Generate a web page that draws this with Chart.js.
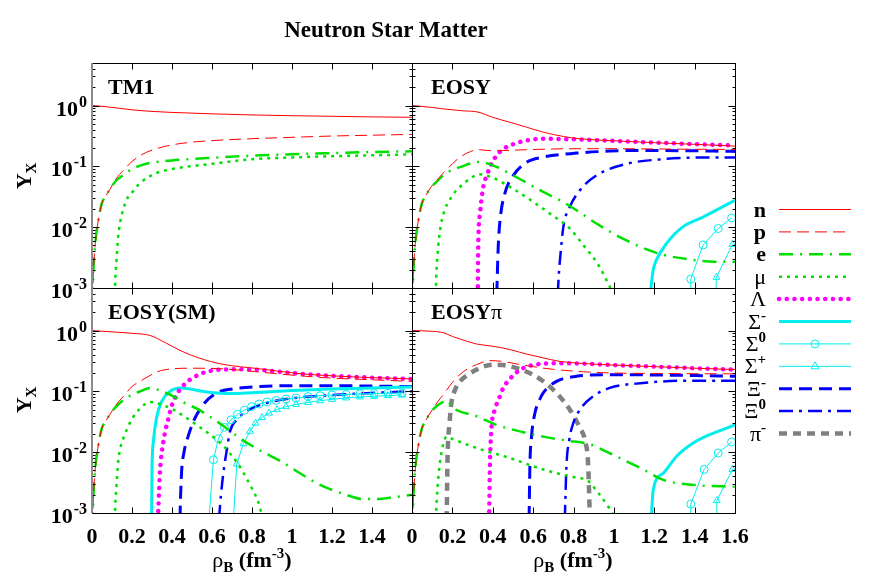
<!DOCTYPE html>
<html>
<head>
<meta charset="utf-8">
<script src="https://cdn.jsdelivr.net/npm/chart.js@4.4.0/dist/chart.umd.min.js"></script>
<style>
  body { margin: 0; background: #fff; }
  #wrap { position: relative; width: 872px; height: 578px; overflow: hidden;
          font-family: "Liberation Serif", "Times New Roman", serif; font-weight: bold; color: #000; }
  #wrap canvas, #wrap svg { position: absolute; left: 0; top: 0; }
  .t { position: absolute; white-space: nowrap; font-size: 22px; line-height: 22px; }
  .g { font-weight: normal; }
  .sup { font-size: 15px; position: relative; top: -9px; }
  .sub { font-size: 15px; position: relative; top: 5px; }
</style>
</head>
<body>
<div id="wrap">
  <canvas id="tm1" width="872" height="578"></canvas>
  <canvas id="eosy" width="872" height="578"></canvas>
  <canvas id="eosysm" width="872" height="578"></canvas>
  <canvas id="eosypi" width="872" height="578"></canvas>
  <svg id="legend" width="872" height="578"></svg>

  <div class="t" style="left:386px; top:19px; font-size:23px; transform:translateX(-50%)">Neutron Star Matter</div>

  <div class="t" style="left:108px; top:76px">TM1</div>
  <div class="t" style="left:431px; top:76px">EOSY</div>
  <div class="t" style="left:108px; top:301px">EOSY(SM)</div>
  <div class="t" style="left:431px; top:301px">EOSY<span class="g">π</span></div>

  <div class="t" style="left:25px; top:176px; transform:translate(-50%,-50%) rotate(-90deg)">Y<span class="sub">X</span></div>
  <div class="t" style="left:25px; top:400px; transform:translate(-50%,-50%) rotate(-90deg)">Y<span class="sub">X</span></div>

  <div class="t" style="left:252px; top:549px; transform:translateX(-50%)"><span class="g">ρ</span><span class="sub">B</span> (fm<span class="sup">-3</span>)</div>
  <div class="t" style="left:573px; top:549px; transform:translateX(-50%)"><span class="g">ρ</span><span class="sub">B</span> (fm<span class="sup">-3</span>)</div>
  <div id="legendText"></div>
</div>

<script>
// axis ticks
const xTicks = [0, 0.2, 0.4, 0.6, 0.8, 1, 1.2, 1.4, 1.6];
const xTickLabelsLeft = ['0', '0.2', '0.4', '0.6', '0.8', '1', '1.2', '1.4'];
const xTickLabelsRight = ['0', '0.2', '0.4', '0.6', '0.8', '1', '1.2', '1.4', '1.6'];
const yDecades = [-3, -2, -1, 0];
const yMin = 1e-3, yMax = 5;

// legend entries: [key, label html]
const legendKeys = ['n', 'p', 'e', 'mu', 'lam', 'sm', 's0', 'sp', 'xm', 'x0', 'pim'];
const legendLabels = ['n', 'p', 'e', '<span class="g">μ</span>', '<span class="g">Λ</span>',
  '<span class="g">Σ</span><span class="sup">-</span>', '<span class="g">Σ</span><span class="sup">0</span>',
  '<span class="g">Σ</span><span class="sup">+</span>', '<span class="g">Ξ</span><span class="sup">-</span>',
  '<span class="g">Ξ</span><span class="sup">0</span>', '<span class="g">π</span><span class="sup">-</span>'];

// ---- TM1 : [rho_B, Y]
const tm1_n = [[0,1.0],[0.05,0.97],[0.1,0.93],[0.15,0.89],[0.2,0.85],[0.3,0.8],[0.4,0.77],[0.5,0.75],[0.6,0.73],[0.8,0.7],[1.0,0.68],[1.2,0.665],[1.4,0.65],[1.6,0.64]];
const tm1_p = [[0.003,0.0006],[0.006,0.0015],[0.01,0.0028],[0.015,0.0048],[0.023,0.0085],[0.035,0.015],[0.048,0.024],[0.07,0.033],[0.09,0.042],[0.12,0.062],[0.157,0.086],[0.2,0.12],[0.24,0.15],[0.3,0.185],[0.4,0.225],[0.5,0.25],[0.6,0.265],[0.8,0.285],[1.0,0.3],[1.2,0.315],[1.4,0.325],[1.6,0.335]];
const tm1_e = [[0.003,0.0006],[0.006,0.0015],[0.01,0.0028],[0.015,0.0048],[0.023,0.0085],[0.035,0.015],[0.048,0.024],[0.07,0.033],[0.09,0.042],[0.12,0.058],[0.157,0.072],[0.2,0.09],[0.24,0.103],[0.3,0.115],[0.4,0.125],[0.5,0.132],[0.6,0.138],[0.8,0.15],[1.0,0.158],[1.2,0.165],[1.4,0.172],[1.6,0.177]];
const tm1_mu = [[0.114,0.0008],[0.117,0.0015],[0.123,0.003],[0.13,0.0065],[0.14,0.0116],[0.173,0.028],[0.2,0.037],[0.24,0.053],[0.32,0.077],[0.4,0.09],[0.49,0.1],[0.6,0.11],[0.79,0.13],[1.0,0.14],[1.2,0.147],[1.4,0.152],[1.6,0.157]];

// ---- EOSY
const eosy_n = [[0,1.0],[0.1,0.93],[0.155,0.88],[0.25,0.82],[0.327,0.78],[0.4,0.64],[0.485,0.53],[0.568,0.44],[0.65,0.365],[0.75,0.31],[0.83,0.284],[0.98,0.265],[1.2,0.245],[1.4,0.23],[1.6,0.215]];
const eosy_p = [[0.003,0.0006],[0.006,0.0015],[0.01,0.0028],[0.015,0.0048],[0.023,0.0085],[0.035,0.015],[0.048,0.024],[0.07,0.034],[0.097,0.047],[0.125,0.06],[0.155,0.078],[0.2,0.11],[0.238,0.142],[0.29,0.175],[0.327,0.188],[0.4,0.18],[0.568,0.188],[0.815,0.195],[1.0,0.195],[1.2,0.193],[1.4,0.191],[1.6,0.19]];
const eosy_e = [[0.003,0.0006],[0.006,0.0015],[0.01,0.0028],[0.015,0.0048],[0.023,0.0085],[0.035,0.015],[0.048,0.024],[0.07,0.034],[0.097,0.046],[0.125,0.057],[0.155,0.071],[0.2,0.088],[0.238,0.097],[0.3,0.114],[0.33,0.118],[0.4,0.104],[0.485,0.076],[0.55,0.058],[0.65,0.038],[0.73,0.028],[0.815,0.019],[0.91,0.0117],[1.06,0.0061],[1.22,0.0037],[1.39,0.0029],[1.5,0.0027],[1.6,0.0027]];
const eosy_mu = [[0.118,0.0008],[0.12,0.0015],[0.125,0.003],[0.135,0.007],[0.15,0.014],[0.2,0.033],[0.25,0.05],[0.3,0.067],[0.33,0.074],[0.4,0.065],[0.485,0.046],[0.58,0.029],[0.683,0.0167],[0.782,0.0095],[0.85,0.005],[0.92,0.0025],[0.99,0.0009]];
const eosy_lam = [[0.326,0.0008],[0.328,0.0047],[0.337,0.0168],[0.353,0.046],[0.37,0.07],[0.386,0.097],[0.419,0.151],[0.45,0.19],[0.485,0.22],[0.568,0.267],[0.65,0.284],[0.815,0.277],[1.0,0.262],[1.145,0.25],[1.4,0.232],[1.6,0.22]];
const eosy_xm = [[0.42,0.0008],[0.427,0.0047],[0.436,0.013],[0.46,0.036],[0.502,0.071],[0.568,0.117],[0.65,0.142],[0.815,0.165],[0.98,0.178],[1.145,0.183],[1.4,0.18],[1.6,0.176]];
const eosy_x0 = [[0.722,0.0008],[0.728,0.0018],[0.733,0.0029],[0.75,0.0102],[0.782,0.0217],[0.832,0.0405],[0.914,0.071],[1.063,0.11],[1.228,0.13],[1.393,0.139],[1.6,0.14]];
const eosy_sm = [[1.18,0.0008],[1.195,0.002],[1.211,0.0029],[1.261,0.0054],[1.343,0.0102],[1.442,0.0147],[1.6,0.0277]];
const eosy_s0 = [[1.378,0.0008],[1.381,0.0014],[1.442,0.0051],[1.517,0.0095],[1.583,0.0142]];
const eosy_sp = [[1.505,0.0008],[1.508,0.0015],[1.587,0.0052]];

// ---- EOSY(SM)
const sm_n = [[0,1.0],[0.1,0.95],[0.2,0.9],[0.29,0.83],[0.367,0.63],[0.45,0.455],[0.533,0.355],[0.65,0.28],[0.833,0.236],[1.04,0.195],[1.2,0.18],[1.4,0.168],[1.6,0.16]];
const sm_p = [[0.003,0.0006],[0.006,0.0015],[0.01,0.0028],[0.015,0.0048],[0.023,0.0085],[0.035,0.015],[0.048,0.024],[0.07,0.033],[0.09,0.042],[0.12,0.06],[0.157,0.083],[0.2,0.12],[0.24,0.146],[0.3,0.19],[0.323,0.208],[0.36,0.225],[0.407,0.236],[0.5,0.24],[0.65,0.235],[0.833,0.208],[1.04,0.18],[1.2,0.165],[1.4,0.155],[1.6,0.146]];
const sm_e = [[0.003,0.0006],[0.006,0.0015],[0.01,0.0028],[0.015,0.0048],[0.023,0.0085],[0.035,0.015],[0.048,0.024],[0.07,0.033],[0.09,0.042],[0.12,0.056],[0.157,0.072],[0.2,0.088],[0.25,0.103],[0.29,0.114],[0.35,0.1],[0.407,0.083],[0.457,0.066],[0.533,0.05],[0.65,0.028],[0.75,0.0161],[0.833,0.011],[0.957,0.0067],[1.04,0.0045],[1.123,0.0031],[1.2,0.0024],[1.29,0.0019],[1.35,0.0017],[1.42,0.0017],[1.5,0.0018],[1.6,0.002]];
const sm_mu = [[0.114,0.0008],[0.117,0.0015],[0.123,0.003],[0.13,0.0065],[0.14,0.011],[0.16,0.018],[0.2,0.035],[0.24,0.052],[0.29,0.067],[0.35,0.06],[0.407,0.05],[0.47,0.037],[0.533,0.0266],[0.65,0.0133],[0.733,0.0062],[0.79,0.0029],[0.832,0.0015],[0.85,0.0009]];
const sm_lam = [[0.33,0.0008],[0.332,0.0012],[0.34,0.0048],[0.357,0.015],[0.382,0.036],[0.4,0.06],[0.423,0.088],[0.45,0.118],[0.49,0.156],[0.53,0.185],[0.573,0.21],[0.657,0.228],[0.75,0.23],[0.84,0.225],[1.0,0.2],[1.2,0.18],[1.4,0.168],[1.6,0.16]];
const sm_sm = [[0.298,0.0008],[0.3,0.005],[0.307,0.015],[0.323,0.037],[0.348,0.068],[0.39,0.1],[0.44,0.114],[0.5,0.108],[0.55,0.1],[0.623,0.094],[0.7,0.092],[0.8,0.095],[1.0,0.103],[1.2,0.109],[1.4,0.114],[1.6,0.118]];
const sm_xm = [[0.44,0.0008],[0.442,0.0015],[0.448,0.0048],[0.46,0.01],[0.473,0.015],[0.507,0.032],[0.557,0.061],[0.623,0.094],[0.707,0.11],[0.84,0.12],[1.0,0.124],[1.2,0.124],[1.4,0.122],[1.6,0.12]];
const sm_x0 = [[0.635,0.0008],[0.645,0.002],[0.66,0.0055],[0.673,0.0103],[0.69,0.022],[0.723,0.034],[0.773,0.047],[0.823,0.057],[0.9,0.068],[1.0,0.077],[1.2,0.087],[1.4,0.094],[1.6,0.1]];
const sm_s0 = [[0.585,0.0008],[0.607,0.0075],[0.632,0.0167],[0.662,0.0256],[0.695,0.034],[0.728,0.042],[0.762,0.049],[0.798,0.056],[0.835,0.062],[0.875,0.067],[0.92,0.071],[0.97,0.075],[1.02,0.078],[1.08,0.082],[1.14,0.085],[1.2,0.087],[1.27,0.089],[1.34,0.091],[1.41,0.092],[1.48,0.093],[1.55,0.094]];
const sm_sp = [[0.707,0.0008],[0.724,0.0064],[0.757,0.0138],[0.79,0.022],[0.818,0.03],[0.85,0.037],[0.885,0.044],[0.925,0.05],[0.97,0.056],[1.02,0.061],[1.08,0.066],[1.14,0.07],[1.2,0.074],[1.27,0.078],[1.34,0.081],[1.41,0.083],[1.48,0.085],[1.55,0.087]];

// ---- EOSY pi
const pi_n = [[0,1.0],[0.1,0.97],[0.155,0.92],[0.2,0.8],[0.24,0.72],[0.32,0.6],[0.403,0.55],[0.485,0.486],[0.568,0.41],[0.65,0.355],[0.733,0.31],[0.83,0.29],[1.0,0.27],[1.2,0.255],[1.4,0.24],[1.6,0.228]];
const pi_p = [[0.003,0.0006],[0.006,0.0015],[0.01,0.0028],[0.015,0.0048],[0.023,0.0085],[0.035,0.015],[0.048,0.024],[0.07,0.034],[0.097,0.048],[0.125,0.066],[0.155,0.088],[0.2,0.14],[0.238,0.19],[0.28,0.24],[0.32,0.275],[0.386,0.32],[0.45,0.31],[0.55,0.27],[0.7,0.23],[0.85,0.21],[1.0,0.2],[1.2,0.197],[1.4,0.195],[1.6,0.194]];
const pi_e = [[0.003,0.0006],[0.006,0.0015],[0.01,0.0028],[0.015,0.0048],[0.023,0.0085],[0.035,0.015],[0.048,0.024],[0.07,0.034],[0.097,0.047],[0.13,0.06],[0.15,0.066],[0.168,0.071],[0.205,0.053],[0.32,0.039],[0.419,0.028],[0.535,0.022],[0.65,0.018],[0.766,0.0155],[0.88,0.0135],[0.98,0.0096],[1.145,0.0052],[1.245,0.0035],[1.394,0.0029],[1.6,0.0027]];
const pi_mu = [[0.118,0.0008],[0.122,0.0015],[0.13,0.0037],[0.147,0.0103],[0.172,0.018],[0.2,0.0165],[0.32,0.0117],[0.485,0.008],[0.65,0.0052],[0.815,0.0038],[0.865,0.0035],[0.92,0.0022],[0.97,0.0013],[1.0,0.0009]];
const pi_lam = [[0.382,0.0008],[0.386,0.006],[0.392,0.021],[0.41,0.05],[0.427,0.07],[0.45,0.11],[0.485,0.16],[0.53,0.22],[0.57,0.255],[0.65,0.285],[0.75,0.29],[0.85,0.285],[1.0,0.27],[1.2,0.255],[1.4,0.24],[1.6,0.228]];
const pi_xm = [[0.58,0.0008],[0.584,0.006],[0.592,0.018],[0.609,0.044],[0.63,0.07],[0.65,0.094],[0.716,0.146],[0.815,0.177],[0.98,0.188],[1.2,0.186],[1.4,0.182],[1.6,0.177]];
const pi_x0 = [[0.757,0.0008],[0.765,0.0058],[0.779,0.016],[0.799,0.03],[0.832,0.05],[0.898,0.083],[0.98,0.114],[1.145,0.137],[1.39,0.15],[1.6,0.15]];
const pi_sm = [[1.185,0.0008],[1.195,0.0024],[1.244,0.0045],[1.31,0.0085],[1.393,0.0141],[1.475,0.0194],[1.6,0.028]];
const pi_s0 = [[1.378,0.0008],[1.381,0.0014],[1.447,0.0052],[1.517,0.0097],[1.583,0.0147]];
const pi_sp = [[1.507,0.0008],[1.51,0.0016],[1.587,0.0052]];
const pi_pim = [[0.172,0.0008],[0.175,0.005],[0.178,0.013],[0.185,0.028],[0.196,0.068],[0.21,0.1],[0.238,0.146],[0.28,0.19],[0.32,0.228],[0.36,0.26],[0.403,0.275],[0.45,0.27],[0.485,0.258],[0.53,0.235],[0.568,0.21],[0.61,0.18],[0.65,0.146],[0.716,0.094],[0.782,0.05],[0.832,0.025],[0.856,0.016],[0.873,0.0058],[0.881,0.0008]];

// line styles per species
const styles = {
  n:   {color: '#ff0000', width: 1,   dash: []},
  p:   {color: '#ff0000', width: 1,   dash: [12, 6]},
  e:   {color: '#00e000', width: 2.5, dash: [14, 7, 2, 7]},
  mu:  {color: '#00e000', width: 2.5, dash: [3, 5]},
  lam: {color: '#ff00ff', width: 4.5, dash: [0.1, 7.6], cap: 'round'},
  sm:  {color: '#00eeee', width: 3,   dash: []},
  s0:  {color: '#00eeee', width: 1,   dash: [], point: 'circle'},
  sp:  {color: '#00eeee', width: 1,   dash: [], point: 'triangle'},
  xm:  {color: '#0000ff', width: 3,   dash: [13, 7]},
  x0:  {color: '#0000ff', width: 2.5, dash: [14, 6, 3, 6]},
  pim: {color: '#808080', width: 4.5, dash: [8, 6]}
};

// frame, inward ticks and tick labels (gnuplot look)
const framePlugin = {
  id: 'frame',
  afterDatasetsDraw(chart, args, o) {
    const {ctx, chartArea: a} = chart;
    const xs = chart.scales.x, ys = chart.scales.y;
    const L = Math.round(a.left) + 0.5, R = Math.round(a.right) + 0.5;
    const T = Math.round(a.top) + 0.5, B = Math.round(a.bottom) + 0.5;
    ctx.save();
    ctx.strokeStyle = '#000';
    ctx.lineWidth = 1;
    ctx.beginPath();
    xTicks.forEach(v => {
      const px = Math.round(xs.getPixelForValue(v)) + 0.5;
      ctx.moveTo(px, B); ctx.lineTo(px, B - 6);
      ctx.moveTo(px, T); ctx.lineTo(px, T + 6);
    });
    yDecades.forEach(d => {
      for (let m = 1; m <= 9; m++) {
        const v = m * Math.pow(10, d);
        if (v > yMax) break;
        const py = Math.round(ys.getPixelForValue(v)) + 0.5;
        const len = m === 1 ? 7 : 3;
        ctx.moveTo(L, py); ctx.lineTo(L + len, py);
        ctx.moveTo(R, py); ctx.lineTo(R - len, py);
      }
    });
    ctx.moveTo(L, T); ctx.lineTo(R, T); ctx.lineTo(R, B); ctx.lineTo(L, B);
    if (!o.grayLeft) ctx.lineTo(L, T);
    ctx.stroke();
    if (o.grayLeft) {
      ctx.strokeStyle = '#8c8c8c';
      ctx.lineWidth = 2;
      ctx.beginPath(); ctx.moveTo(a.left, a.top); ctx.lineTo(a.left, a.bottom); ctx.stroke();
    }
    ctx.fillStyle = '#000';
    ctx.textBaseline = 'alphabetic';
    if (o.xLabels) {
      ctx.font = 'bold 22px "Liberation Serif"';
      ctx.textAlign = 'center';
      o.xLabels.forEach((t, i) => ctx.fillText(t, xs.getPixelForValue(xTicks[i]), 543));
    }
    if (o.yLabels) {
      ctx.textAlign = 'left';
      yDecades.forEach(d => {
        const py = ys.getPixelForValue(Math.pow(10, d));
        const exp = String(d);
        ctx.font = 'bold 22px "Liberation Serif"';
        const w1 = ctx.measureText('10').width;
        ctx.font = 'bold 16px "Liberation Serif"';
        const w2 = ctx.measureText(exp).width;
        const x0 = 87 - w1 - w2 - 1;
        ctx.fillText(exp, x0 + w1 + 1, py + 1);
        ctx.font = 'bold 22px "Liberation Serif"';
        ctx.fillText('10', x0, py + 10);
      });
    }
    ctx.restore();
  }
};

function series(data, key) {
  const st = styles[key];
  return {
    data: data.map(p => ({x: p[0], y: p[1]})),
    borderColor: st.color,
    borderWidth: st.width,
    borderDash: st.dash,
    borderCapStyle: st.cap || 'butt',
    pointRadius: st.point ? (c => c.dataIndex === 0 ? 0 : 4) : 0,
    pointStyle: st.point || 'circle',
    pointBorderColor: st.color,
    pointBackgroundColor: 'rgba(0,0,0,0)',
    pointBorderWidth: 1,
    cubicInterpolationMode: st.point ? 'default' : 'monotone',
    tension: 0,
    fill: false
  };
}

function panel(id, area, sets, o) {
  new Chart(document.getElementById(id), {
    type: 'line',
    data: {datasets: sets.map(s => series(s[0], s[1]))},
    options: {
      responsive: false,
      animation: false,
      events: [],
      layout: {padding: {left: area[0], top: area[1], right: 872 - area[2], bottom: 578 - area[3]}},
      scales: {
        x: {type: 'linear', min: 0, max: 1.6, display: false},
        y: {type: 'logarithmic', min: yMin, max: yMax, display: false}
      },
      plugins: {legend: {display: false}, tooltip: {enabled: false}, frame: o}
    },
    plugins: [framePlugin]
  });
}

panel('tm1', [92, 63, 412, 288],
  [[tm1_n, 'n'], [tm1_p, 'p'], [tm1_e, 'e'], [tm1_mu, 'mu']],
  {yLabels: true, grayLeft: true});

panel('eosy', [412, 63, 735, 288],
  [[eosy_n, 'n'], [eosy_p, 'p'], [eosy_e, 'e'], [eosy_mu, 'mu'], [eosy_lam, 'lam'], [eosy_sm, 'sm'],
   [eosy_s0, 's0'], [eosy_sp, 'sp'], [eosy_xm, 'xm'], [eosy_x0, 'x0']],
  {});

panel('eosysm', [92, 288, 412, 513],
  [[sm_n, 'n'], [sm_p, 'p'], [sm_e, 'e'], [sm_mu, 'mu'], [sm_lam, 'lam'], [sm_sm, 'sm'],
   [sm_s0, 's0'], [sm_sp, 'sp'], [sm_xm, 'xm'], [sm_x0, 'x0']],
  {yLabels: true, grayLeft: true, xLabels: xTickLabelsLeft});

panel('eosypi', [412, 288, 735, 513],
  [[pi_n, 'n'], [pi_p, 'p'], [pi_e, 'e'], [pi_mu, 'mu'], [pi_lam, 'lam'], [pi_sm, 'sm'],
   [pi_s0, 's0'], [pi_sp, 'sp'], [pi_xm, 'xm'], [pi_x0, 'x0'], [pi_pim, 'pim']],
  {xLabels: xTickLabelsRight});

// legend: label text + line sample
const svg = document.getElementById('legend');
const ns = 'http://www.w3.org/2000/svg';
let html = '';
legendKeys.forEach((k, i) => {
  const st = styles[k];
  const y = 209.5 + i * 22.4;
  const ln = document.createElementNS(ns, 'line');
  ln.setAttribute('x1', 779); ln.setAttribute('x2', 851);
  ln.setAttribute('y1', y); ln.setAttribute('y2', y);
  ln.setAttribute('stroke', st.color);
  ln.setAttribute('stroke-width', st.width);
  if (st.dash.length) ln.setAttribute('stroke-dasharray', st.dash.join(' '));
  ln.setAttribute('stroke-linecap', st.cap || 'butt');
  svg.appendChild(ln);
  if (st.point === 'circle') {
    const c = document.createElementNS(ns, 'circle');
    c.setAttribute('cx', 815); c.setAttribute('cy', y); c.setAttribute('r', 4);
    c.setAttribute('fill', 'none'); c.setAttribute('stroke', st.color);
    svg.appendChild(c);
  } else if (st.point === 'triangle') {
    const t = document.createElementNS(ns, 'polygon');
    t.setAttribute('points', `815,${y - 4.5} 819,${y + 2.5} 811,${y + 2.5}`);
    t.setAttribute('fill', 'none'); t.setAttribute('stroke', st.color);
    svg.appendChild(t);
  }
  html += `<div class="t" style="right:${872 - 766}px; top:${(y - 11).toFixed(1)}px">${legendLabels[i]}</div>`;
});
document.getElementById('legendText').innerHTML = html;
</script>
</body>
</html>
